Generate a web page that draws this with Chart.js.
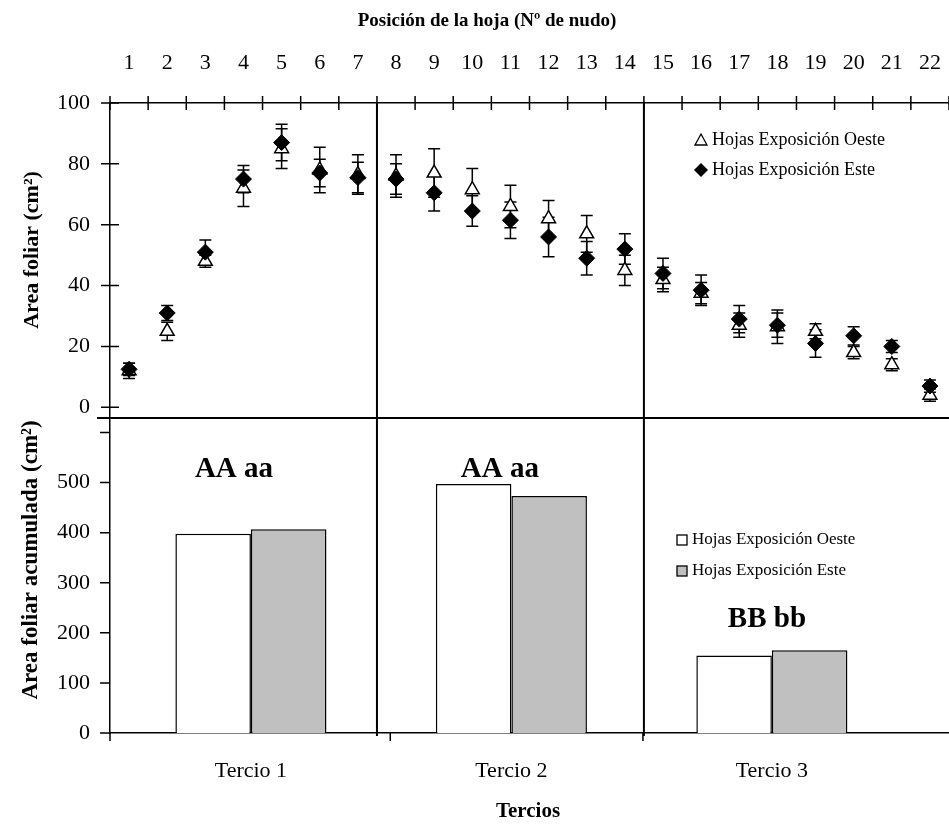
<!DOCTYPE html>
<html>
<head>
<meta charset="utf-8">
<script src="https://cdn.jsdelivr.net/npm/chart.js@4"></script>
<style>
html, body { margin: 0; padding: 0; background: #fff; }
#wrap { position: relative; width: 949px; height: 826px; }
#wrap canvas { position: absolute; left: 0; top: 0; }
</style>
</head>
<body>
<div id="wrap">
  <canvas id="nudoChart" width="949" height="826"></canvas>
  <canvas id="tercioChart" width="949" height="826"></canvas>
</div>
<script>
// datos
const nudos = ['1','2','3','4','5','6','7','8','9','10','11','12','13','14','15','16','17','18','19','20','21','22'];
const oesteArea = [12, 25, 48, 72, 85, 78, 76.5, 76, 77, 71.5, 66, 62, 57, 45, 42, 37.5, 27, 26.5, 25, 18, 14, 4];
const oesteErr  = [2.5, 3, 2, 6, 6.5, 7.5, 6.5, 7, 8, 7, 7, 6, 6, 5, 4, 3.5, 4, 5.5, 2.5, 2, 2, 2];
const esteArea  = [12.5, 31, 51, 75, 87, 77, 75.5, 75, 70.5, 64.5, 61.5, 56, 49, 52, 44, 38.5, 29, 27, 21, 23.5, 20, 7];
const esteErr   = [2, 2.5, 4, 4.5, 6, 4.5, 5, 5, 6, 5, 6, 6.5, 5.5, 5, 5, 5, 4.5, 4, 4.5, 3, 2, 2];
const areaTicks = [0, 20, 40, 60, 80, 100];

const tercios = ['Tercio 1', 'Tercio 2', 'Tercio 3'];
const oesteAcum = [398, 497, 155];
const esteAcum  = [407, 473, 165];
const acumTicks = [0, 100, 200, 300, 400, 500, 600];
const letras  = ['AA aa', 'AA aa', 'BB bb'];
const letrasX = [0.935, 1.956, 2.981];
const letrasY = [512, 512, 212];

const serieNombres = ['Hojas Exposición Oeste', 'Hojas Exposición Este'];

const FONT = '"Liberation Serif", "Times New Roman", serif';

function rotatedText(ctx, text, x, y, font) {
    ctx.save();
    ctx.translate(x, y);
    ctx.rotate(-Math.PI / 2);
    ctx.font = font;
    ctx.textAlign = 'center';
    ctx.textBaseline = 'middle';
    ctx.fillText(text, 0, 0);
    ctx.restore();
}

const nudoExtras = {
    id: 'nudoExtras',
    beforeDatasetsDraw(chart) {
        // barras de error
        const { ctx, scales: { x, y } } = chart;
        ctx.save();
        ctx.strokeStyle = '#000';
        ctx.lineWidth = 1.5;
        [[oesteArea, oesteErr], [esteArea, esteErr]].forEach(([vals, errs]) => {
            vals.forEach((v, i) => {
                const px = x.getPixelForValue(i);
                const yTop = y.getPixelForValue(v + errs[i]);
                const yBot = y.getPixelForValue(v - errs[i]);
                ctx.beginPath();
                ctx.moveTo(px, yTop); ctx.lineTo(px, yBot);
                ctx.moveTo(px - 6, yTop); ctx.lineTo(px + 6, yTop);
                ctx.moveTo(px - 6, yBot); ctx.lineTo(px + 6, yBot);
                ctx.stroke();
            });
        });
        ctx.restore();
    },
    afterDraw(chart) {
        const { ctx, chartArea: a, scales: { x, y } } = chart;
        ctx.save();
        ctx.strokeStyle = '#000';
        ctx.lineWidth = 1.5;
        ctx.beginPath();
        // marcas del eje superior
        for (let i = -0.5; i <= nudos.length - 0.5; i++) {
            const px = x.getPixelForValue(i);
            ctx.moveTo(px, a.top - 7); ctx.lineTo(px, a.top + 7);
        }
        // marcas del eje y
        areaTicks.forEach(v => {
            const py = y.getPixelForValue(v);
            ctx.moveTo(a.left - 9, py); ctx.lineTo(a.left + 9, py);
        });
        ctx.stroke();

        // linea que separa los dos graficos
        ctx.lineWidth = 2;
        ctx.beginPath();
        ctx.moveTo(a.left - 13, a.bottom); ctx.lineTo(a.right, a.bottom);
        // divisiones entre tercios
        [6.5, 13.5].forEach(v => {
            const px = x.getPixelForValue(v);
            ctx.moveTo(px, a.top); ctx.lineTo(px, a.bottom);
        });
        ctx.stroke();

        // leyenda
        ctx.fillStyle = '#000';
        ctx.font = '18px ' + FONT;
        ctx.textAlign = 'left';
        ctx.textBaseline = 'middle';
        ctx.lineWidth = 1.3;
        ctx.beginPath();
        ctx.moveTo(701, 134); ctx.lineTo(707, 145); ctx.lineTo(695, 145); ctx.closePath();
        ctx.stroke();
        ctx.fillText(serieNombres[0], 712, 140);
        ctx.beginPath();
        ctx.moveTo(701, 163); ctx.lineTo(708, 170); ctx.lineTo(701, 177); ctx.lineTo(694, 170); ctx.closePath();
        ctx.fill();
        ctx.fillText(serieNombres[1], 712, 170);

        // titulos
        ctx.font = 'bold 19px ' + FONT;
        ctx.textAlign = 'center';
        ctx.fillText('Posición de la hoja (Nº de nudo)', 487, 21);
        rotatedText(ctx, 'Area foliar (cm²)', 32, 250, 'bold 22px ' + FONT);
        ctx.restore();
    }
};

const nudoChart = new Chart(document.getElementById('nudoChart'), {
    type: 'line',
    data: {
        labels: nudos,
        datasets: [
            {
                label: serieNombres[0],
                data: oesteArea,
                showLine: false,
                pointStyle: 'triangle',
                pointRadius: 8,
                pointBackgroundColor: '#fff',
                pointBorderColor: '#000',
                pointBorderWidth: 1.5,
                order: 1
            },
            {
                label: serieNombres[1],
                data: esteArea,
                showLine: false,
                pointStyle: 'rectRot',
                pointRadius: 8,
                pointBackgroundColor: '#000',
                pointBorderColor: '#000',
                pointBorderWidth: 1,
                order: 0
            }
        ]
    },
    options: {
        responsive: false,
        animation: false,
        devicePixelRatio: 1,
        layout: { autoPadding: false, padding: { left: 0, right: 0, top: 0, bottom: 408 } },
        plugins: { legend: { display: false }, tooltip: { enabled: false } },
        scales: {
            x: {
                position: 'top',
                offset: true,
                grid: { display: false, drawTicks: false },
                border: { display: true, color: '#000', width: 1.5 },
                ticks: { color: '#000', font: { family: FONT, size: 22 }, padding: 27, maxRotation: 0, autoSkip: false },
                afterFit(s) { s.height = 103; s.paddingLeft = 0; s.paddingRight = 0; }
            },
            y: {
                min: -3.5,
                max: 100,
                afterBuildTicks(s) { s.ticks = areaTicks.map(v => ({ value: v })); },
                grid: { display: false, drawTicks: false },
                border: { display: true, color: '#000', width: 1.5 },
                ticks: { color: '#000', font: { family: FONT, size: 22 }, padding: 20 },
                afterFit(s) { s.width = 110; s.paddingTop = 0; s.paddingBottom = 0; }
            }
        }
    },
    plugins: [nudoExtras]
});

const tercioExtras = {
    id: 'tercioExtras',
    afterDraw(chart) {
        const { ctx, chartArea: a, scales: { x, y } } = chart;
        ctx.save();
        ctx.strokeStyle = '#000';
        ctx.lineWidth = 1.5;
        ctx.beginPath();
        // marcas entre tercios
        [x.min, 1.535, 2.505].forEach(v => {
            const px = x.getPixelForValue(v);
            ctx.moveTo(px, a.bottom); ctx.lineTo(px, a.bottom + 8);
        });
        acumTicks.forEach(v => {
            const py = y.getPixelForValue(v);
            ctx.moveTo(a.left - 10, py); ctx.lineTo(a.left, py);
        });
        ctx.stroke();

        // divisiones entre tercios, alineadas con el grafico de arriba
        const nx = nudoChart.scales.x;
        ctx.lineWidth = 2;
        ctx.beginPath();
        [6.5, 13.5].forEach(v => {
            const px = nx.getPixelForValue(v);
            ctx.moveTo(px, a.top); ctx.lineTo(px, a.bottom + 3);
        });
        ctx.stroke();

        // letras de significancia
        ctx.fillStyle = '#000';
        ctx.font = 'bold 29px ' + FONT;
        ctx.textAlign = 'center';
        ctx.textBaseline = 'alphabetic';
        letras.forEach((t, i) => {
            ctx.fillText(t, x.getPixelForValue(letrasX[i]), y.getPixelForValue(letrasY[i]));
        });

        // leyenda
        ctx.lineWidth = 1.3;
        ctx.font = '17px ' + FONT;
        ctx.textAlign = 'left';
        ctx.textBaseline = 'middle';
        const colores = ['#fff', '#c0c0c0'];
        [540, 571].forEach((py, i) => {
            ctx.fillStyle = colores[i];
            ctx.fillRect(677, py - 5, 10, 10);
            ctx.strokeRect(677, py - 5, 10, 10);
            ctx.fillStyle = '#000';
            ctx.fillText(serieNombres[i], 692, py);
        });

        // titulos
        ctx.font = 'bold 21px ' + FONT;
        ctx.textAlign = 'center';
        ctx.fillText('Tercios', 528, 812);
        rotatedText(ctx, 'Area foliar acumulada (cm²)', 31, 560, 'bold 23px ' + FONT);
        ctx.restore();
    }
};

new Chart(document.getElementById('tercioChart'), {
    type: 'bar',
    data: {
        datasets: [
            {
                label: serieNombres[0],
                data: oesteAcum.map((v, i) => ({ x: i + 1, y: v })),
                backgroundColor: '#fff',
                borderColor: '#000',
                borderWidth: 1.5,
                categoryPercentage: 0.58,
                barPercentage: 1
            },
            {
                label: serieNombres[1],
                data: esteAcum.map((v, i) => ({ x: i + 1, y: v })),
                backgroundColor: '#c0c0c0',
                borderColor: '#000',
                borderWidth: 1.5,
                categoryPercentage: 0.58,
                barPercentage: 1
            }
        ]
    },
    options: {
        responsive: false,
        animation: false,
        devicePixelRatio: 1,
        layout: { autoPadding: false, padding: { left: 0, right: 0, top: 418, bottom: 0 } },
        plugins: { legend: { display: false }, tooltip: { enabled: false } },
        scales: {
            x: {
                type: 'linear',
                offset: false,
                min: 0.459,
                max: 3.68,
                afterBuildTicks(s) { s.ticks = tercios.map((t, i) => ({ value: i + 1 })); },
                grid: { display: false, drawTicks: false },
                border: { display: true, color: '#000', width: 1.5 },
                ticks: {
                    color: '#000',
                    font: { family: FONT, size: 22 },
                    padding: 25,
                    maxRotation: 0,
                    callback: v => tercios[v - 1]
                },
                afterFit(s) { s.height = 93; s.paddingLeft = 0; s.paddingRight = 0; }
            },
            y: {
                min: 0,
                max: 629,
                afterBuildTicks(s) { s.ticks = acumTicks.map(v => ({ value: v })); },
                grid: { display: false, drawTicks: false },
                border: { display: true, color: '#000', width: 1.5 },
                ticks: { color: '#000', font: { family: FONT, size: 22 }, padding: 20, callback: v => (v === 600 ? '' : v) },
                afterFit(s) { s.width = 110; s.paddingTop = 0; s.paddingBottom = 0; }
            }
        }
    },
    plugins: [tercioExtras]
});
</script>
</body>
</html>
